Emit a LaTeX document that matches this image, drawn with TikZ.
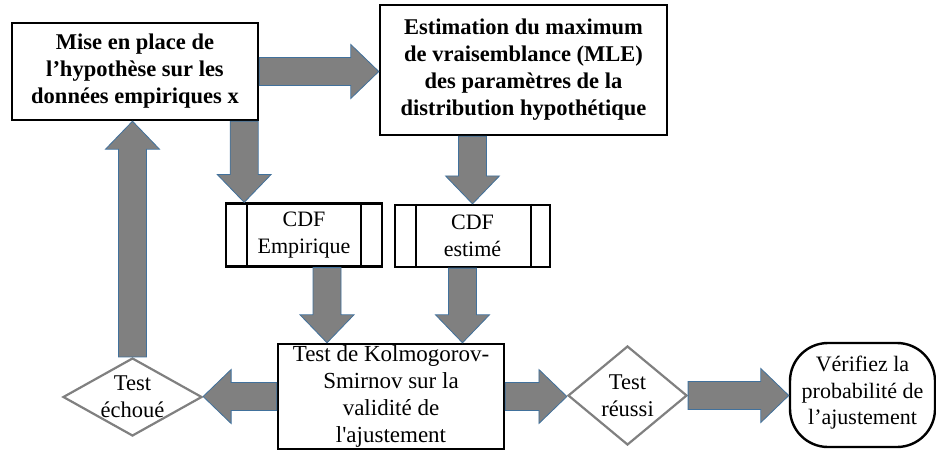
\documentclass[tikz,border=0pt]{standalone}
\usepackage{fontspec}
\setmainfont{Liberation Serif}
\usepackage{tikz}
\usetikzlibrary{calc,shapes.geometric}
\definecolor{arrowGray}{RGB}{128,128,128}
\definecolor{arrowBlue}{RGB}{65,113,156}
\definecolor{tgray}{RGB}{128,128,128}
\tikzset{
    bigarrow/.style={fill=arrowGray, draw=arrowBlue, line width=0.8pt},
    procbox/.style={draw=black, line width=2.4pt, fill=white, align=center, inner sep=0pt,
        font=\bfseries\fontsize{22.5}{27}\selectfont},
    cdfbox/.style={draw=black, line width=2.2pt, fill=white, align=center, inner sep=0pt,
        font=\fontsize{22}{27}\selectfont},
    testdiamond/.style={diamond, draw=tgray, line width=2.2pt, fill=white, inner sep=0pt,
        label={[align=center, font=\fontsize{22.5}{27}\selectfont]center:#1}},
    endbox/.style={draw=black, line width=2.4pt, fill=white, align=center, inner sep=0pt,
        rounded corners=38pt, font=\fontsize{22}{26.5}\selectfont}
}
% block arrows: start, end
\newcommand{\bigarrowh}[2]{%
    \draw[bigarrow] let \p1=(#1), \p2=(#2), \n1={sign(\x2-\x1)} in
        (\x1,\y1+14pt) -- ({\x2-(\n1)*28pt},\y1+14pt) -- ({\x2-(\n1)*28pt},\y1+27pt)
        -- (\x2,\y1) -- ({\x2-(\n1)*28pt},\y1-27pt) -- ({\x2-(\n1)*28pt},\y1-14pt)
        -- (\x1,\y1-14pt) -- cycle;}
\newcommand{\bigarrowv}[2]{%
    \draw[bigarrow] let \p1=(#1), \p2=(#2), \n1={sign(\y2-\y1)} in
        (\x1-14pt,\y1) -- (\x1-14pt,{\y2-(\n1)*28pt}) -- (\x1-27pt,{\y2-(\n1)*28pt})
        -- (\x1,\y2) -- (\x1+27pt,{\y2-(\n1)*28pt}) -- (\x1+14pt,{\y2-(\n1)*28pt})
        -- (\x1+14pt,\y1) -- cycle;}

\begin{document}
\begin{tikzpicture}[x=1pt,y=-1pt]
    \useasboundingbox (0,0) rectangle (936,452);
    % boxes
    \node[procbox, minimum width=246pt, minimum height=97pt] (hyp) at (135,71.5)
        {Mise en place de\\l’hypothèse sur les\\données empiriques x};
    \node[procbox, minimum width=287pt, minimum height=130pt] (mle) at (523.5,70)
        {Estimation du maximum\\de vraisemblance (MLE)\\des paramètres de la\\distribution hypothétique};
    \node[cdfbox, minimum width=156pt, minimum height=63pt] (emp) at (304,235) {CDF\\Empirique};
    \node[cdfbox, minimum width=155pt, minimum height=62pt] (est) at (472.5,236) {CDF\\estimé};
    \draw[line width=2.2pt] ([xshift=22pt]emp.north west) -- ([xshift=22pt]emp.south west);
    \draw[line width=2.2pt] ([xshift=-22pt]emp.north east) -- ([xshift=-22pt]emp.south east);
    \draw[line width=2.2pt] ([xshift=22pt]est.north west) -- ([xshift=22pt]est.south west);
    \draw[line width=2.2pt] ([xshift=-20pt]est.north east) -- ([xshift=-20pt]est.south east);
    \node[cdfbox, line width=2.4pt, minimum width=226pt, minimum height=105pt,
        font=\fontsize{23}{27}\selectfont] (ks) at (391,396.5)
        {Test de Kolmogorov-\\Smirnov sur la\\validité de\\l\textquotesingle ajustement};
    \node[testdiamond={Test\\échoué}, minimum width=139pt, minimum height=78pt] (fail) at (132.5,397) {};
    \node[testdiamond={Test\\réussi}, minimum width=119pt, minimum height=99pt] (pass) at (627.5,395.5) {};
    \node[endbox, minimum width=145pt, minimum height=104pt, text depth=9pt] (res) at (862.5,395)
        {Vérifiez la\\probabilité de\\l’ajustement};
    % connectors
    \bigarrowh{hyp.east}{hyp.east -| mle.west}
    \bigarrowv{[xshift=-15pt]hyp.south east}{[xshift=-15pt]hyp.south east |- emp.north}
    \bigarrowv{est.north |- mle.south}{est.north}
    \bigarrowv{[xshift=23pt]emp.south}{[xshift=23pt]emp.south |- ks.north}
    \bigarrowv{[xshift=-10pt]est.south}{[xshift=-10pt]est.south |- ks.north}
    \bigarrowh{ks.west}{ks.west -| fail.east}
    \bigarrowv{fail.north}{fail.north |- hyp.south}
    \bigarrowh{ks.east}{ks.east -| pass.west}
    \bigarrowh{pass.east}{pass.east -| res.west}
\end{tikzpicture}
\end{document}
